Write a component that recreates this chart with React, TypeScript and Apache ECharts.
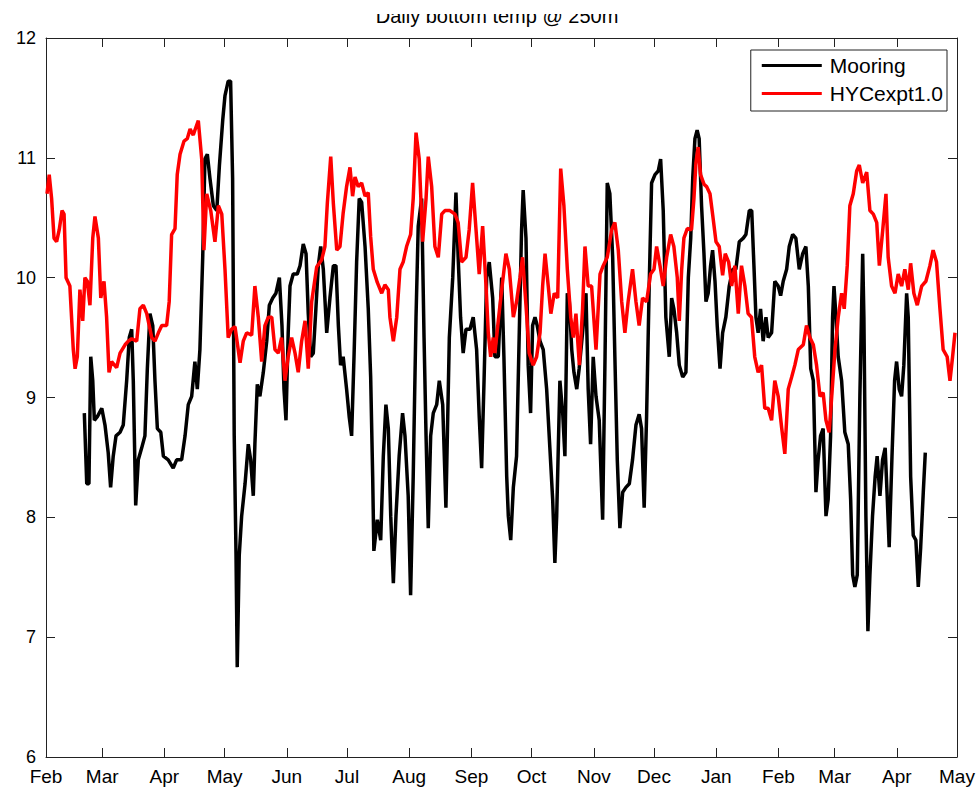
import React, { useEffect, useRef } from "react";
import * as echarts from "echarts";

// Month tick labels and their day offsets from 1 Feb
const monthLabels = ["Feb", "Mar", "Apr", "May", "Jun", "Jul", "Aug", "Sep", "Oct", "Nov", "Dec", "Jan", "Feb", "Mar", "Apr", "May"];
const monthStartDays = [0, 28, 59, 89, 120, 150, 181, 212, 242, 273, 303, 334, 365, 393, 424, 454];
const yTicks = [6, 7, 8, 9, 10, 11, 12];

// Mooring (black) – day offset and temperature
const mooringDays = [
  19.1, 20.3, 21.4, 22.3, 23.3, 24.1, 25.6, 27.8, 29.4, 31.0, 32.2, 33.5, 34.9, 36.9, 38.5, 40.2, 41.5, 42.7, 43.5, 44.7,
  46.0, 47.7, 49.3, 50.5, 51.8, 53.2, 54.3, 55.5, 57.2, 58.5, 60.9, 63.4, 65.1, 67.6, 69.3, 70.9, 72.6, 74.2, 75.4, 76.7,
  78.1, 79.2, 80.4, 81.7, 83.4, 85.1, 86.4, 88.1, 89.2, 90.8, 92.0, 93.0, 93.8, 94.7, 95.3, 96.3, 97.5, 99.2, 100.8, 102.0,
  103.3, 104.1, 105.3, 106.6, 108.3, 110.0, 111.3, 113.0, 114.6, 116.3, 117.6, 118.6, 119.6, 120.7, 121.6, 123.2, 125.2, 126.6, 128.2, 129.6,
  130.7, 131.9, 133.2, 134.5, 135.7, 136.9, 138.2, 139.9, 141.5, 143.2, 144.5, 145.7, 146.8, 148.1, 149.8, 151.1, 152.3, 153.5, 154.8, 156.1,
  157.3, 159.0, 160.6, 161.8, 162.8, 163.4, 165.1, 166.8, 168.1, 169.4, 170.6, 171.8, 173.1, 174.4, 176.0, 177.7, 178.9, 180.5, 181.7, 183.0,
  184.4, 185.5, 187.2, 188.4, 189.4, 190.5, 191.7, 193.0, 194.7, 196.0, 197.7, 199.3, 201.0, 202.7, 204.3, 205.4, 206.6, 207.9, 209.3, 211.3,
  212.9, 214.6, 215.9, 217.1, 218.3, 219.6, 220.9, 222.6, 223.7, 225.4, 227.1, 228.2, 229.6, 230.4, 231.6, 232.9, 234.5, 235.8, 237.0, 237.8,
  239.2, 240.3, 241.5, 242.5, 243.7, 244.8, 246.2, 247.8, 249.5, 251.1, 252.5, 253.6, 254.5, 256.1, 257.5, 258.6, 259.8, 260.8, 262.0, 263.1,
  264.5, 265.7, 267.4, 269.1, 270.2, 271.4, 272.7, 274.1, 275.7, 277.4, 278.6, 279.7, 281.0, 282.4, 283.5, 284.7, 286.0, 287.4, 289.0, 290.7,
  292.3, 294.0, 295.6, 296.8, 298.1, 299.3, 300.6, 301.8, 303.5, 305.1, 306.3, 307.6, 308.9, 310.6, 311.8, 312.9, 314.3, 315.6, 317.3, 318.9,
  320.1, 321.3, 322.3, 323.4, 324.5, 325.5, 326.7, 327.9, 328.9, 330.0, 331.2, 332.2, 333.4, 334.5, 335.9, 337.2, 338.8, 340.5, 342.2, 343.8,
  345.5, 347.5, 348.8, 350.5, 351.7, 352.8, 353.8, 354.9, 356.1, 357.4, 358.8, 359.9, 361.6, 363.2, 364.9, 366.1, 367.4, 369.1, 370.4, 372.1,
  373.7, 375.4, 377.1, 378.7, 379.9, 381.1, 382.4, 383.7, 384.8, 386.0, 387.3, 388.7, 389.8, 391.0, 392.0, 392.7, 393.7, 394.8, 396.5, 398.1,
  399.8, 401.0, 402.0, 403.1, 404.3, 405.6, 407.0, 407.6, 408.6, 409.6, 410.6, 411.9, 413.2, 414.2, 415.6, 416.9, 418.2, 419.2, 420.2, 421.6,
  422.9, 423.9, 425.2, 426.4, 427.5, 428.9, 429.7, 430.9, 432.2, 433.5, 434.7, 435.9, 437.2, 438.2,
];
const mooringTemps = [
  8.87, 8.28, 8.28, 9.34, 9.14, 8.81, 8.84, 8.91, 8.77, 8.54, 8.25, 8.51, 8.68, 8.71, 8.77, 9.14, 9.5, 9.57, 9.14, 8.1,
  8.48, 8.58, 8.68, 9.24, 9.7, 9.6, 9.14, 8.74, 8.71, 8.51, 8.48, 8.41, 8.48, 8.48, 8.68, 8.94, 9.01, 9.3, 9.07, 9.4,
  10.17, 10.99, 11.03, 10.83, 10.6, 10.56, 10.93, 11.32, 11.52, 11.64, 11.64, 10.83, 8.68, 7.68, 6.75, 7.68, 8.01, 8.28, 8.61, 8.48,
  8.18, 8.61, 9.11, 9.01, 9.21, 9.47, 9.77, 9.83, 9.87, 10.0, 9.6, 9.07, 8.81, 9.54, 9.93, 10.03, 10.03, 10.1, 10.28, 10.2,
  9.7, 9.34, 9.37, 9.74, 10.1, 10.26, 10.07, 9.54, 9.83, 10.1, 10.1, 9.6, 9.27, 9.34, 9.07, 8.84, 8.68, 9.34, 10.13, 10.66,
  10.63, 10.26, 9.74, 9.17, 8.34, 7.72, 7.98, 7.81, 8.51, 8.94, 8.74, 8.01, 7.45, 8.01, 8.51, 8.87, 8.68, 8.18, 7.35, 8.34,
  9.67, 10.43, 10.66, 9.5, 8.68, 7.91, 8.68, 8.87, 8.94, 9.14, 8.94, 8.08, 9.5, 10.0, 10.71, 10.17, 9.67, 9.37, 9.57, 9.57,
  9.67, 9.4, 8.84, 8.41, 9.14, 10.0, 10.13, 9.83, 9.34, 9.34, 10.0, 9.34, 8.34, 8.01, 7.81, 8.25, 8.51, 9.5, 10.4, 10.73,
  10.33, 9.27, 8.87, 9.6, 9.67, 9.6, 9.47, 9.4, 9.07, 8.58, 8.15, 7.62, 8.01, 9.14, 8.87, 8.51, 9.87, 9.8, 9.4, 9.21,
  9.07, 9.24, 9.54, 9.87, 9.07, 8.61, 9.34, 9.01, 8.81, 7.98, 9.34, 10.79, 10.7, 10.17, 9.34, 8.48, 7.91, 8.21, 8.25, 8.28,
  8.48, 8.77, 8.86, 8.74, 8.08, 8.84, 9.93, 10.79, 10.86, 10.89, 10.99, 10.56, 9.67, 9.34, 9.83, 9.74, 9.54, 9.27, 9.17, 9.21,
  10.0, 10.33, 10.83, 11.16, 11.23, 11.16, 10.6, 10.2, 9.8, 9.87, 10.1, 10.23, 9.97, 9.6, 9.24, 9.54, 9.67, 9.93, 10.07, 10.07,
  10.3, 10.33, 10.36, 10.56, 10.56, 10.1, 9.67, 9.54, 9.74, 9.47, 9.67, 9.5, 9.54, 9.97, 9.93, 9.85, 9.97, 10.07, 10.26, 10.36,
  10.33, 10.07, 10.2, 10.26, 9.93, 9.24, 9.14, 8.21, 8.48, 8.68, 8.74, 8.01, 8.15, 8.68, 9.67, 9.93, 9.67, 9.34, 9.14, 8.71,
  8.61, 8.15, 7.52, 7.42, 7.52, 9.01, 10.2, 9.67, 8.01, 7.05, 7.52, 8.01, 8.34, 8.51, 8.18, 8.48, 8.58, 8.18, 7.75, 8.51,
  9.14, 9.3, 9.07, 9.01, 9.27, 9.87, 9.67, 8.34, 7.85, 7.81, 7.42, 7.75, 8.21, 8.54,
];

// HYCexpt1.0 (red) – day offset and temperature
const hycomDays = [
  0.5, 1.6, 2.8, 4.0, 5.3, 6.6, 8.0, 9.0, 10.0, 11.9, 13.6, 14.5, 15.6, 16.9, 18.3, 19.4, 20.6, 21.9, 23.3, 24.4,
  26.1, 27.3, 28.9, 30.2, 31.4, 32.7, 35.2, 36.9, 39.4, 41.0, 42.7, 45.2, 46.8, 48.5, 50.2, 52.7, 54.3, 56.0, 57.7, 60.1,
  61.4, 62.6, 64.3, 65.4, 66.8, 68.8, 70.4, 71.8, 73.4, 74.2, 75.9, 77.6, 78.7, 80.1, 82.1, 84.2, 85.9, 87.6, 89.2, 90.8,
  92.5, 94.2, 96.7, 98.3, 100.0, 102.5, 104.1, 105.8, 107.5, 109.1, 110.8, 112.5, 114.1, 115.8, 117.4, 119.1, 120.7, 122.4, 124.1, 125.7,
  127.4, 129.1, 130.7, 132.4, 134.9, 137.4, 139.0, 140.2, 141.9, 143.2, 144.9, 146.5, 148.1, 149.8, 151.5, 152.8, 154.0, 155.6, 157.3, 159.0,
  160.6, 161.8, 163.1, 165.1, 167.3, 168.9, 170.6, 171.4, 173.1, 174.8, 176.4, 178.0, 179.7, 181.7, 183.0, 184.4, 186.0, 187.7, 189.4, 190.5,
  192.2, 193.8, 195.5, 197.2, 198.8, 201.3, 203.8, 205.4, 207.1, 209.3, 210.9, 212.6, 214.3, 215.9, 217.6, 219.3, 220.4, 221.6, 222.9, 223.7,
  225.4, 227.1, 229.2, 230.9, 232.9, 234.5, 236.2, 237.5, 239.2, 240.8, 242.8, 244.5, 246.2, 247.5, 248.7, 250.3, 251.6, 253.3, 255.0, 256.5,
  258.1, 259.8, 261.5, 262.8, 264.1, 265.8, 267.4, 268.6, 270.2, 271.9, 274.1, 276.1, 277.7, 279.7, 281.9, 283.5, 285.2, 286.9, 288.5, 290.1,
  292.3, 294.0, 295.6, 297.3, 299.3, 301.3, 303.0, 304.3, 306.0, 307.6, 309.3, 311.3, 312.9, 314.6, 315.6, 316.8, 317.9, 319.6, 321.7, 322.9,
  323.9, 325.0, 326.2, 327.9, 329.2, 330.9, 332.2, 333.9, 335.5, 337.2, 338.5, 340.2, 341.7, 343.3, 345.0, 346.6, 348.3, 349.9, 351.6, 353.2,
  354.9, 356.6, 358.2, 359.9, 361.6, 363.2, 364.9, 366.6, 368.2, 369.9, 371.6, 373.2, 374.9, 377.4, 379.0, 380.7, 382.4, 384.0, 385.7, 387.3,
  388.7, 390.3, 391.7, 393.2, 394.8, 396.5, 397.8, 399.3, 400.6, 402.3, 404.0, 405.3, 407.0, 409.0, 410.6, 412.3, 414.0, 415.3, 417.0, 418.6,
  419.7, 421.4, 423.1, 424.7, 426.4, 428.0, 429.7, 430.9, 432.5, 434.2, 436.4, 438.5, 440.5, 442.1, 443.8, 445.5, 447.1, 449.1, 450.5, 451.8,
  453.0,
];
const hycomTemps = [
  10.7, 10.86, 10.66, 10.33, 10.3, 10.4, 10.56, 10.53, 10.0, 9.93, 9.4, 9.24, 9.34, 9.9, 9.64, 10.0, 9.97, 9.77, 10.33, 10.51,
  10.33, 9.83, 9.97, 9.67, 9.21, 9.3, 9.25, 9.37, 9.44, 9.47, 9.49, 9.47, 9.74, 9.77, 9.7, 9.5, 9.47, 9.54, 9.6, 9.6,
  9.8, 10.36, 10.41, 10.86, 11.03, 11.14, 11.16, 11.24, 11.19, 11.23, 11.31, 10.99, 10.23, 10.7, 10.56, 10.3, 10.6, 10.53, 10.07, 9.5,
  9.57, 9.59, 9.29, 9.47, 9.54, 9.52, 9.93, 9.67, 9.3, 9.6, 9.67, 9.67, 9.4, 9.37, 9.5, 9.14, 9.34, 9.5, 9.37, 9.21,
  9.47, 9.64, 9.24, 9.8, 10.09, 10.15, 10.26, 10.62, 11.01, 10.62, 10.23, 10.26, 10.54, 10.76, 10.92, 10.68, 10.84, 10.76, 10.79, 10.68,
  10.71, 10.34, 10.07, 9.96, 9.87, 9.94, 9.9, 9.67, 9.47, 9.67, 10.07, 10.13, 10.26, 10.36, 10.66, 11.21, 10.99, 10.3, 10.66, 11.01,
  10.76, 10.26, 10.17, 10.53, 10.56, 10.56, 10.53, 10.46, 10.13, 10.17, 10.4, 10.79, 10.4, 10.03, 10.43, 9.93, 9.54, 9.34, 9.5, 9.37,
  9.64, 9.9, 10.2, 10.07, 9.67, 9.8, 10.0, 10.17, 9.77, 9.37, 9.27, 9.34, 9.54, 9.93, 10.2, 9.93, 9.7, 9.87, 9.83, 10.91,
  10.6, 10.07, 9.67, 9.5, 9.7, 9.27, 9.74, 10.26, 9.93, 9.93, 9.4, 10.03, 10.1, 10.17, 10.4, 10.46, 10.23, 9.8, 9.54, 9.8,
  10.07, 9.8, 9.6, 9.83, 9.8, 10.03, 10.07, 10.26, 10.1, 9.93, 10.17, 10.36, 10.26, 10.0, 9.64, 10.07, 10.33, 10.41, 10.4, 10.66,
  10.96, 11.09, 10.86, 10.78, 10.76, 10.7, 10.53, 10.3, 10.26, 10.02, 10.2, 10.13, 9.93, 10.1, 9.7, 10.1, 9.93, 9.7, 9.67, 9.34,
  9.21, 9.27, 8.91, 8.91, 8.81, 9.14, 9.01, 8.75, 8.53, 9.07, 9.17, 9.27, 9.4, 9.44, 9.6, 9.5, 9.44, 9.27, 9.01, 9.04,
  8.81, 8.71, 9.04, 9.4, 9.67, 9.87, 9.74, 10.1, 10.6, 10.7, 10.89, 10.94, 10.79, 10.88, 10.56, 10.53, 10.46, 10.1, 10.4, 10.7,
  10.17, 9.93, 9.87, 10.03, 9.93, 10.07, 9.9, 10.12, 9.87, 9.77, 9.93, 9.97, 10.1, 10.23, 10.13, 9.74, 9.4, 9.34, 9.14, 9.34,
  9.54,
];

const FONT = "'Liberation Sans', Arial, Helvetica, sans-serif";

export default function App() {
  const ref = useRef<HTMLDivElement>(null);

  useEffect(() => {
    if (!ref.current) return;
    const chart = echarts.init(ref.current, undefined, { renderer: "svg" });

    const mooringData = mooringDays.map((d, i) => [d, mooringTemps[i]]);
    const hycomData = hycomDays.map((d, i) => [d, hycomTemps[i]]);
    const xMin = monthStartDays[0];
    const xMax = monthStartDays[monthStartDays.length - 1];
    const yMin = yTicks[0];
    const yMax = yTicks[yTicks.length - 1];

    const axisLineStyle = { color: "#222", width: 1 };

    chart.setOption({
      animation: false,
      backgroundColor: "#ffffff",
      textStyle: { fontFamily: FONT },
      grid: { left: 46, right: 23, top: 38, bottom: 32, containLabel: false },
      graphic: [
        {
          type: "text",
          z: 50,
          style: {
            text: "Daily bottom temp @ 250m",
            x: 497,
            y: 15.5,
            align: "center",
            verticalAlign: "middle",
            font: `20px ${FONT}`,
            fill: "#000",
          },
        },
        {
          type: "rect",
          z: 60,
          shape: { x: 300, y: 0, width: 400, height: 14 },
          style: { fill: "#ffffff" },
        },
      ],
      legend: {
        right: 33,
        top: 50,
        orient: "vertical",
        backgroundColor: "#ffffff",
        borderColor: "#222",
        borderWidth: 1,
        borderRadius: 0,
        padding: [5, 4, 7, 11],
        itemGap: 7,
        itemWidth: 60,
        itemHeight: 3,
        icon: "rect",
        textStyle: { fontSize: 21, color: "#000", fontFamily: FONT, lineHeight: 21, padding: [0, 0, 0, 3] },
        data: ["Mooring", "HYCexpt1.0"],
      },
      xAxis: [
        {
          type: "value",
          position: "bottom",
          min: xMin,
          max: xMax,
          splitLine: { show: false },
          axisLine: { show: true, onZero: false, lineStyle: axisLineStyle },
          axisTick: { show: true, inside: true, length: 9, lineStyle: axisLineStyle, customValues: monthStartDays },
          axisLabel: {
            show: true,
            margin: 11,
            fontSize: 19,
            lineHeight: 16,
            color: "#000",
            fontFamily: FONT,
            customValues: monthStartDays,
            formatter: (v: number) => {
              const i = monthStartDays.indexOf(v);
              return i >= 0 ? monthLabels[i] : "";
            },
          },
        },
        {
          type: "value",
          position: "top",
          min: xMin,
          max: xMax,
          splitLine: { show: false },
          axisLine: { show: true, onZero: false, lineStyle: axisLineStyle },
          axisTick: { show: true, inside: true, length: 9, lineStyle: axisLineStyle, customValues: monthStartDays },
          axisLabel: { show: false },
        },
      ],
      yAxis: [
        {
          type: "value",
          position: "left",
          min: yMin,
          max: yMax,
          interval: 1,
          splitLine: { show: false },
          axisLine: { show: true, onZero: false, lineStyle: axisLineStyle },
          axisTick: { show: true, inside: true, length: 9, lineStyle: axisLineStyle },
          axisLabel: { show: true, margin: 10, fontSize: 18, lineHeight: 14, color: "#000", fontFamily: FONT },
        },
        {
          type: "value",
          position: "right",
          min: yMin,
          max: yMax,
          interval: 1,
          splitLine: { show: false },
          axisLine: { show: true, onZero: false, lineStyle: axisLineStyle },
          axisTick: { show: true, inside: true, length: 9, lineStyle: axisLineStyle },
          axisLabel: { show: false },
        },
      ],
      series: [
        {
          name: "Mooring",
          type: "line",
          xAxisIndex: 0,
          yAxisIndex: 0,
          data: mooringData,
          symbol: "none",
          showSymbol: false,
          color: "#000000",
          lineStyle: { color: "#000000", width: 3.5 },
          z: 2,
        },
        {
          name: "HYCexpt1.0",
          type: "line",
          xAxisIndex: 0,
          yAxisIndex: 0,
          data: hycomData,
          symbol: "none",
          showSymbol: false,
          color: "#ff0000",
          lineStyle: { color: "#ff0000", width: 3.5 },
          z: 3,
        },
      ],
    });

    return () => {
      chart.dispose();
    };
  }, []);

  return (
    <div
      ref={ref}
      style={{ position: "absolute", left: 0, top: 0, width: 980, height: 789, background: "#fff" }}
    />
  );
}
